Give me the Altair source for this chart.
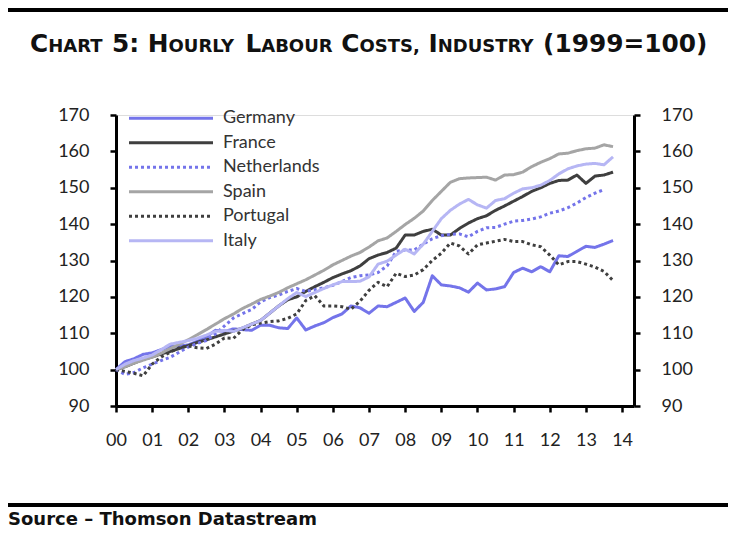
import altair as alt
import pandas as pd

countries = ["Germany", "France", "Netherlands", "Spain", "Portugal", "Italy"]
colors = ["#7474ea", "#3f3f3f", "#7474ea", "#a5a5a5", "#3f3f3f", "#b6b6f4"]
dashes = [[1, 0], [1, 0], [3, 3], [1, 0], [3, 3], [1, 0]]

year_ticks = list(range(0, 15))
y_ticks = list(range(90, 171, 10))

# quarterly index values, starting 2000 Q1
germany = [100, 102.2, 103, 104.2, 104.6, 105.5, 106.4, 106.5, 106.8, 107.8, 109, 110.8,
           110.5, 111.2, 111, 110.8, 112.2, 112.2, 111.5, 111.3, 114.2, 110.9, 112, 112.9,
           114.3, 115.3, 117.5, 117, 115.5, 117.5, 117.3, 118.5, 119.7, 116, 118.5, 125.8,
           123.3, 123, 122.5, 121.3, 123.8, 121.9, 122.2, 122.8, 126.7, 127.9, 126.9, 128.3,
           126.9, 131.3, 131.1, 132.5, 133.9, 133.6, 134.5, 135.5]
france = [100, 100.8, 101.8, 102.8, 103.5, 104.3, 105, 105.8, 106.6, 107.5, 108.2, 109,
          109.8, 110.6, 111.4, 112.5, 113.5, 115.5, 117.5, 119.2, 120, 121.5, 122.8, 124,
          125.3, 126.3, 127.2, 128.5, 130.5, 131.5, 132.2, 133.4, 137, 137, 138, 138.6,
          137, 137, 138.8, 140.3, 141.5, 142.3, 143.8, 145, 146.3, 147.6, 149, 150,
          151.2, 152, 152.1, 153.5, 151.2, 153.2, 153.5, 154.3]
netherlands = [100, 98.7, 99.2, 100.5, 101.5, 102.5, 103.4, 104.8, 106.2, 107.2, 108, 109.8,
               112, 114.2, 115.4, 116.5, 118.6, 119.8, 120.5, 121.5, 122.3, 121.5, 122, 122.5,
               123.2, 124.2, 125.3, 125.8, 126, 126.7, 128.5, 132.5, 132.9, 132.9, 134.5, 136,
               136.8, 137.2, 137.3, 136.5, 138, 139, 139.1, 140, 140.8, 141, 141.4, 142,
               143, 143.6, 144.5, 145.8, 147.3, 148.5, 149.5]
spain = [100, 100.8, 101.8, 102.6, 103.4, 104.5, 105.8, 107, 108.2, 109.6, 111, 112.5,
         114, 115.3, 116.8, 118, 119.3, 120.2, 121.2, 122.5, 123.6, 124.7, 126, 127.3,
         128.8, 130, 131.2, 132.2, 133.7, 135.4, 136.2, 138, 139.9, 141.6, 143.6, 146.5,
         149, 151.5, 152.5, 152.7, 152.8, 152.9, 152.1, 153.5, 153.6, 154.3, 155.8, 157,
         158, 159.3, 159.5, 160.2, 160.7, 160.9, 161.8, 161.3]
portugal = [100, 99.5, 99, 98.3, 101.5, 103.5, 104.8, 106, 106.5, 106, 105.8, 107,
            108.7, 108.6, 111, 112.3, 112.8, 113.2, 113.4, 114.1, 115.3, 119, 120.3, 117.5,
            117.5, 117.3, 116.6, 118.8, 121.8, 124, 122.8, 126.5, 125.6, 126, 127.5, 130,
            132, 134.8, 134, 131.8, 134.3, 134.8, 135.3, 135.8, 135.2, 135.2, 134.3, 133.8,
            131.5, 128.8, 129.7, 129.7, 129, 128.2, 127, 124.5]
italy = [100, 101.5, 102.5, 103.2, 104, 105.5, 107, 107.5, 108, 108.6, 109.5, 110.5,
         110.8, 110.5, 111.5, 112.5, 113.5, 115.5, 117.5, 119.5, 121.2, 120.1, 121.2, 122.3,
         123.3, 124.2, 124.2, 124.3, 125.5, 129, 129.8, 131.5, 133.1, 131.8, 134.5, 138,
         141.5, 143.8, 145.5, 146.8, 145.3, 144.4, 146.5, 147, 148.5, 149.7, 150, 150.7,
         152, 153.8, 155.2, 156, 156.5, 156.7, 156.3, 158.5]

series = [germany, france, netherlands, spain, portugal, italy]

# title in small caps: pieces of (text, full-size capital?)
title_pieces = [("C", True), ("HART", False), (" ", True), ("5:", True), (" ", True),
                ("H", True), ("OURLY", False), (" ", True), ("L", True), ("ABOUR", False),
                (" ", True), ("C", True), ("OSTS,", False), (" ", True), ("I", True),
                ("NDUSTRY", False), (" ", True), ("(1999=100)", True)]

# approximate DejaVu Sans Bold advance widths (em) used to lay the pieces side by side
GLYPH_W = {"A": .774, "B": .762, "C": .734, "D": .830, "H": .837, "I": .372, "L": .637,
           "N": .837, "O": .850, "R": .770, "S": .720, "T": .682, "U": .812, "Y": .724,
           "(": .457, ")": .457, "=": .838, ":": .400, ",": .380, " ": .348}
BIG, SMALL = 24.8, 18.0

rows = []
for name, vals in zip(countries, series):
    for i, v in enumerate(vals):
        rows.append({"country": name, "t": i * 0.25, "value": v})
df = pd.DataFrame(rows)

leg = pd.DataFrame({"country": countries, "idx": list(range(len(countries)))})

FONT = "Lato"
TFONT = "DejaVu Sans"

color = alt.Color("country:N", scale=alt.Scale(domain=countries, range=colors), legend=None)
dash = alt.StrokeDash("country:N", scale=alt.Scale(domain=countries, range=dashes), legend=None)

xscale = alt.Scale(domain=[0, 14.33], nice=False, zero=False)
yscale = alt.Scale(domain=[90, 170], nice=False, zero=False)

xaxis = alt.Axis(values=year_ticks, labelExpr="datum.value < 10 ? '0' + datum.value : '' + datum.value",
                 title=None, grid=False, domainColor="black", domainWidth=3, tickColor="black",
                 tickWidth=2.5, tickSize=6, labelFont=FONT, labelFontSize=18, labelColor="#222",
                 labelPadding=19, labelFlush=False)

def yaxis(orient):
    return alt.Axis(orient=orient, values=y_ticks, title=None, grid=False, domainColor="black",
                    domainWidth=3, tickColor="black", tickWidth=2.5, tickSize=6,
                    labelFont=FONT, labelFontSize=18, labelColor="#222", labelPadding=21)

lines = alt.Chart(df).mark_line(strokeWidth=3, strokeCap="butt", strokeJoin="round").encode(
    x=alt.X("t:Q", scale=xscale, axis=xaxis),
    y=alt.Y("value:Q", scale=yscale, axis=yaxis("left")),
    color=color,
    strokeDash=dash,
    detail="country:N",
)

right = alt.Chart(df).mark_line(opacity=0).encode(
    x=alt.X("t:Q", scale=xscale, axis=xaxis),
    y=alt.Y("value:Q", scale=yscale, axis=yaxis("right")),
    detail="country:N",
)

leg_lines = alt.Chart(leg).transform_calculate(ly="169.1 - datum.idx * 6.73").mark_rule(
    strokeWidth=3, strokeCap="butt").encode(
    x=alt.value(13), x2=alt.value(97),
    y=alt.Y("ly:Q", scale=yscale, axis=None),
    color=color, strokeDash=dash,
)
leg_text = alt.Chart(leg).transform_calculate(ly="169.1 - datum.idx * 6.73").mark_text(
    align="left", baseline="middle", font=FONT, fontSize=18, color="#333").encode(
    x=alt.value(107),
    y=alt.Y("ly:Q", scale=yscale, axis=None),
    text="country:N",
)

title_layers = []
cx = -86.0
for txt, big in title_pieces:
    size = BIG if big else SMALL
    w = sum(GLYPH_W.get(ch, .696) for ch in txt) * size
    if txt.strip():
        title_layers.append(
            alt.Chart(pd.DataFrame({"s": [txt]})).mark_text(
                align="left", baseline="alphabetic", font=TFONT, fontSize=size,
                fontWeight="bold", color="#111").encode(
                x=alt.value(round(cx, 1)), y=alt.value(-63), text="s:N")
        )
    cx += w

source = alt.Chart(pd.DataFrame({"s": ["Source \u2013 Thomson Datastream"]})).mark_text(
    align="left", baseline="alphabetic", font=TFONT, fontSize=18, fontWeight="bold", color="#111").encode(
    x=alt.value(-108), y=alt.value(410), text="s:N")

top_rule = alt.Chart(pd.DataFrame({"a": [0]})).mark_rule(color="black", strokeWidth=4).encode(
    x=alt.value(-111), x2=alt.value(615), y=alt.value(-105))
bot_rule = alt.Chart(pd.DataFrame({"a": [0]})).mark_rule(color="black", strokeWidth=4).encode(
    x=alt.value(-111), x2=alt.value(615), y=alt.value(390))

chart = alt.layer(lines, right, leg_lines, leg_text, *title_layers, source, top_rule, bot_rule).resolve_scale(
    y="independent").properties(
    width=518, height=291, autosize="none",
    padding={"left": 108, "top": 107, "right": 94, "bottom": 124},
).configure_view(stroke=None).configure(background="white")

chart.save("out.html", embed_options={"renderer": "svg", "actions": False})
